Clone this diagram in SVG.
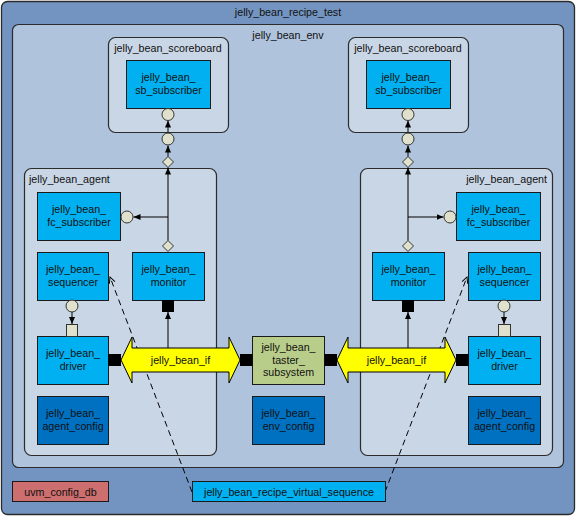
<svg xmlns="http://www.w3.org/2000/svg" width="577" height="517" viewBox="0 0 577 517">
<defs>
<style>
text{font-family:"Liberation Sans",Arial,sans-serif;font-size:10.7px;fill:#111;text-anchor:middle}
.lft{text-anchor:start}
.rgt{text-anchor:end}
.outer{fill:#7394c0;stroke:#2b2b2b;stroke-width:1.3}
.env{fill:#afc3dc;stroke:#2b2b2b;stroke-width:1.2}
.cont{fill:#c9d6e6;stroke:#2b2b2b;stroke-width:1.2}
.comp{fill:#00b0f0;stroke:#1a1a1a;stroke-width:1}
.cfg{fill:#0070c0;stroke:#1a1a1a;stroke-width:1}
.tst{fill:#b9cd8b;stroke:#1a1a1a;stroke-width:1}
.db{fill:#cd6f6f;stroke:#1a1a1a;stroke-width:1}
.port{fill:#dfe1cc;stroke:#333;stroke-width:1}
.blk{fill:#000}
.ln{stroke:#000;stroke-width:1;fill:none}
.dash{stroke:#000;stroke-width:1;fill:none;stroke-dasharray:6 4}
.ifa{fill:#ffff00;stroke:#000;stroke-width:1}
</style>
<marker id="ah" markerWidth="8" markerHeight="8" refX="7" refY="4" orient="auto" markerUnits="userSpaceOnUse"><path d="M0,1 L7,4 L0,7 Z" fill="#000"/></marker>
<marker id="oh" markerWidth="8" markerHeight="8" refX="7" refY="4" orient="auto" markerUnits="userSpaceOnUse"><path d="M1,1 L7,4 L1,7" fill="none" stroke="#000" stroke-width="1"/></marker>
</defs>

<g id="jelly_bean_recipe_test">
<rect class="outer" x="1.5" y="1.5" width="573" height="513" rx="6"/>
<text x="288" y="16">jelly_bean_recipe_test</text>
</g>
<g id="jelly_bean_env">
<rect class="env" x="12.5" y="24.5" width="551" height="443" rx="6"/>
<text x="288" y="39">jelly_bean_env</text>
</g>
<g id="scoreboard_left">
<rect class="cont" x="108.5" y="37.5" width="120" height="95" rx="7"/>
<text x="168" y="52">jelly_bean_scoreboard</text>
</g>
<g id="scoreboard_right">
<rect class="cont" x="348.5" y="37.5" width="120" height="95" rx="7"/>
<text x="408" y="52">jelly_bean_scoreboard</text>
</g>
<g id="agent_left">
<rect class="cont" x="24.5" y="168.5" width="192" height="287" rx="7"/>
<text class="lft" x="29" y="183">jelly_bean_agent</text>
</g>
<g id="agent_right">
<rect class="cont" x="360.5" y="168.5" width="192" height="287" rx="7"/>
<text class="rgt" x="547" y="183">jelly_bean_agent</text>
</g>

<g id="connectors">
<line class="ln" x1="168" y1="133" x2="168" y2="120.5" marker-end="url(#ah)"/>
<line class="ln" x1="168" y1="156.5" x2="168" y2="145.5" marker-end="url(#ah)"/>
<line class="ln" x1="168" y1="240.5" x2="168" y2="167.5" marker-end="url(#ah)"/>
<line class="ln" x1="168" y1="217" x2="133.5" y2="217" marker-end="url(#ah)"/>
<line class="ln" x1="168" y1="348" x2="168" y2="312" marker-end="url(#ah)"/>
<line class="ln" x1="72" y1="312" x2="72" y2="324" marker-end="url(#ah)"/>
<line class="ln" x1="408" y1="133" x2="408" y2="120.5" marker-end="url(#ah)"/>
<line class="ln" x1="408" y1="156.5" x2="408" y2="145.5" marker-end="url(#ah)"/>
<line class="ln" x1="408" y1="240.5" x2="408" y2="167.5" marker-end="url(#ah)"/>
<line class="ln" x1="408" y1="217" x2="443.5" y2="217" marker-end="url(#ah)"/>
<line class="ln" x1="408" y1="348" x2="408" y2="312" marker-end="url(#ah)"/>
<line class="ln" x1="504" y1="312" x2="504" y2="324" marker-end="url(#ah)"/>
<line class="dash" x1="192" y1="492" x2="110" y2="277" marker-end="url(#oh)"/>
<line class="dash" x1="385" y1="492" x2="467" y2="277" marker-end="url(#oh)"/>
</g>

<g id="sb_subscriber_left">
<rect class="comp" x="126.5" y="60.5" width="84" height="48"/>
<text x="168.5" y="81">jelly_bean_</text><text x="168.5" y="93.5">sb_subscriber</text>
<circle class="port" cx="168" cy="114.5" r="6"/>
</g>
<g id="sb_subscriber_right">
<rect class="comp" x="366.5" y="60.5" width="84" height="48"/>
<text x="408.5" y="81">jelly_bean_</text><text x="408.5" y="93.5">sb_subscriber</text>
<circle class="port" cx="408" cy="114.5" r="6"/>
</g>
<g id="sb_export_left"><circle class="port" cx="168" cy="139" r="6"/></g>
<g id="sb_export_right"><circle class="port" cx="408" cy="139" r="6"/></g>
<g id="agent_ap_left"><path class="port" d="M168,156.5 L173.5,162 L168,167.5 L162.5,162 Z"/></g>
<g id="agent_ap_right"><path class="port" d="M408,156.5 L413.5,162 L408,167.5 L402.5,162 Z"/></g>

<g id="fc_subscriber_left">
<rect class="comp" x="37.5" y="192.5" width="83" height="48"/>
<text x="79" y="213">jelly_bean_</text><text x="79" y="225.5">fc_subscriber</text>
<circle class="port" cx="127" cy="217" r="6"/>
</g>
<g id="fc_subscriber_right">
<rect class="comp" x="456.5" y="192.5" width="84" height="48"/>
<text x="498.5" y="213">jelly_bean_</text><text x="498.5" y="225.5">fc_subscriber</text>
<circle class="port" cx="450" cy="217" r="6"/>
</g>

<g id="sequencer_left">
<rect class="comp" x="37.5" y="252.5" width="71" height="48"/>
<text x="73" y="273">jelly_bean_</text><text x="73" y="285.5">sequencer</text>
<circle class="port" cx="72" cy="306" r="6"/>
</g>
<g id="monitor_left">
<rect class="comp" x="132.5" y="252.5" width="72" height="48"/>
<text x="168.5" y="273">jelly_bean_</text><text x="168.5" y="285.5">monitor</text>
<path class="port" d="M168,240.5 L173.5,246 L168,251.5 L162.5,246 Z"/>
<rect class="blk" x="162" y="300" width="12" height="12"/>
</g>
<g id="monitor_right">
<rect class="comp" x="372.5" y="252.5" width="72" height="48"/>
<text x="408.5" y="273">jelly_bean_</text><text x="408.5" y="285.5">monitor</text>
<path class="port" d="M408,240.5 L413.5,246 L408,251.5 L402.5,246 Z"/>
<rect class="blk" x="402" y="300" width="12" height="12"/>
</g>
<g id="sequencer_right">
<rect class="comp" x="468.5" y="252.5" width="72" height="48"/>
<text x="504.5" y="273">jelly_bean_</text><text x="504.5" y="285.5">sequencer</text>
<circle class="port" cx="504" cy="306" r="6"/>
</g>

<g id="driver_left">
<rect class="comp" x="37.5" y="336.5" width="71" height="48"/>
<text x="73" y="357">jelly_bean_</text><text x="73" y="369.5">driver</text>
<rect class="port" x="66.5" y="324.5" width="11" height="12"/>
<rect class="blk" x="108" y="354" width="13" height="12"/>
</g>
<g id="driver_right">
<rect class="comp" x="468.5" y="336.5" width="72" height="48"/>
<text x="504.5" y="357">jelly_bean_</text><text x="504.5" y="369.5">driver</text>
<rect class="port" x="498.5" y="324.5" width="12" height="12"/>
<rect class="blk" x="456" y="354" width="13" height="12"/>
</g>

<g id="taster_subsystem">
<rect class="tst" x="252.5" y="336.5" width="72" height="48"/>
<text x="288.5" y="351">jelly_bean_</text><text x="288.5" y="363.5">taster_</text><text x="288.5" y="376">subsystem</text>
<rect class="blk" x="240" y="354" width="12.5" height="12"/>
<rect class="blk" x="324.5" y="354" width="12.5" height="12"/>
</g>

<g id="jelly_bean_if_left">
<polygon class="ifa" points="121,360 132,337 132,348 229,348 229,337 240,360 229,383 229,372 132,372 132,383"/>
<text x="180.5" y="364">jelly_bean_if</text>
</g>
<g id="jelly_bean_if_right">
<polygon class="ifa" points="337,360 348,337 348,348 445,348 445,337 456,360 445,383 445,372 348,372 348,383"/>
<text x="396.5" y="364">jelly_bean_if</text>
</g>

<g id="agent_config_left">
<rect class="cfg" x="37.5" y="396.5" width="71" height="48"/>
<text x="73" y="417">jelly_bean_</text><text x="73" y="429.5">agent_config</text>
</g>
<g id="env_config">
<rect class="cfg" x="252.5" y="396.5" width="72" height="48"/>
<text x="288.5" y="417">jelly_bean_</text><text x="288.5" y="429.5">env_config</text>
</g>
<g id="agent_config_right">
<rect class="cfg" x="468.5" y="396.5" width="72" height="48"/>
<text x="504.5" y="417">jelly_bean_</text><text x="504.5" y="429.5">agent_config</text>
</g>

<g id="uvm_config_db">
<rect class="db" x="12.5" y="481.5" width="96" height="20"/>
<text x="60.5" y="495.5">uvm_config_db</text>
</g>
<g id="virtual_sequence">
<rect class="comp" x="192.5" y="481.5" width="193" height="20"/>
<text x="289" y="495.5">jelly_bean_recipe_virtual_sequence</text>
</g>
</svg>
